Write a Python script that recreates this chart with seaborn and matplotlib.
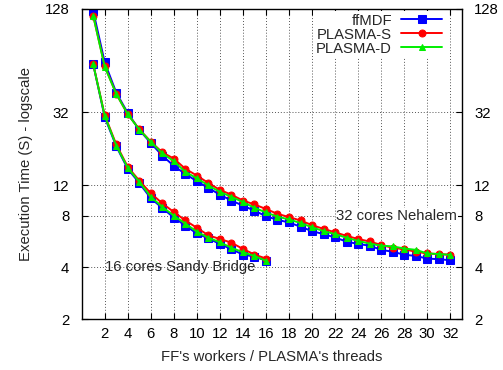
import numpy as np
import pandas as pd
import seaborn as sns
import matplotlib
matplotlib.use("Agg")
import matplotlib.pyplot as plt
from matplotlib.ticker import FixedLocator, FixedFormatter, NullLocator

# ---- data ----
threads_sb = list(range(1, 17))
threads_nh = list(range(1, 33))

sb_ffmdf = [61.0, 30.0, 20.3, 15.0, 12.4, 10.1, 8.87, 7.8, 7.0, 6.3, 5.9, 5.47, 5.1, 4.75, 4.62, 4.38]
sb_plasma_s = [61.0, 30.8, 20.8, 15.4, 12.8, 10.8, 9.44, 8.4, 7.5, 6.8, 6.15, 5.85, 5.57, 5.12, 4.75, 4.5]
sb_plasma_d = [61.0, 30.5, 20.5, 15.2, 12.6, 10.3, 9.0, 8.0, 7.2, 6.45, 5.95, 5.6, 5.2, 4.9, 4.66, 4.37]

nh_ffmdf = [124.6, 62.5, 41.7, 31.7, 25.3, 21.2, 17.9, 15.6, 14.0, 12.7, 11.6, 10.6, 9.8, 9.15, 8.56, 7.94,
            7.57, 7.3, 6.9, 6.5, 6.25, 5.97, 5.65, 5.47, 5.35, 5.06, 4.93, 4.74, 4.66, 4.5, 4.46, 4.4]
nh_plasma_s = [117.0, 59.5, 41.0, 31.2, 25.5, 21.6, 18.7, 17.2, 15.0, 13.7, 12.4, 11.3, 10.6, 9.8, 9.3, 8.75,
               8.2, 7.85, 7.5, 7.05, 6.7, 6.4, 6.1, 5.85, 5.66, 5.4, 5.2, 5.1, 4.93, 4.82, 4.78, 4.74]
nh_plasma_d = [117.0, 59.0, 41.0, 31.2, 25.4, 21.5, 18.5, 16.6, 14.4, 13.2, 12.0, 11.0, 10.3, 9.6, 8.9, 8.35,
               7.9, 7.6, 7.25, 6.85, 6.5, 6.25, 5.95, 5.7, 5.5, 5.35, 5.3, 5.15, 5.06, 4.82, 4.78, 4.73]

series_names = ["ffMDF", "PLASMA-S", "PLASMA-D"]
y_ticks = [2, 4, 8, 12, 32, 128]
x_ticks = list(range(2, 33, 2))

rows = []
for name, sb, nh in zip(series_names,
                        [sb_ffmdf, sb_plasma_s, sb_plasma_d],
                        [nh_ffmdf, nh_plasma_s, nh_plasma_d]):
    for t, v in zip(threads_sb, sb):
        rows.append(dict(threads=t, time=v, impl=name, machine="16 cores Sandy Bridge"))
    for t, v in zip(threads_nh, nh):
        rows.append(dict(threads=t, time=v, impl=name, machine="32 cores Nehalem"))
df = pd.DataFrame(rows)

# ---- style ----
FS = 10.7
sns.set_theme(style="ticks")
plt.rcParams['font.family'] = ['Liberation Sans', 'DejaVu Sans']
plt.rcParams['font.size'] = FS

colors = {"ffMDF": "#0000ff", "PLASMA-S": "#ff0000", "PLASMA-D": "#00ee00"}
markers = {"ffMDF": "s", "PLASMA-S": "o", "PLASMA-D": "^"}
msizes = {"ffMDF": 6, "PLASMA-S": 5, "PLASMA-D": 4.5}

fig = plt.figure(figsize=(5.03, 3.70), dpi=100)
ax = fig.add_axes([0.1624, 0.1378, 0.918 - 0.1624, 0.9757 - 0.1378])

for name in series_names:
    sub = df[df.impl == name]
    sns.lineplot(data=sub, x="threads", y="time", units="machine", estimator=None,
                 color=colors[name], marker=markers[name], markersize=msizes[name],
                 markeredgecolor=colors[name], linewidth=1.4, ax=ax, label=name, sort=True)

ax.set_yscale('log', base=2)
ax.set_ylim(2, 128)
ax.set_xlim(0, 33)
ax.yaxis.set_major_locator(FixedLocator(y_ticks))
ax.yaxis.set_major_formatter(FixedFormatter([str(v) for v in y_ticks]))
ax.yaxis.set_minor_locator(NullLocator())
ax.set_xticks(x_ticks)
ax.set_xticklabels([str(v) for v in x_ticks])

ax.grid(True, which='major', linestyle=(0, (1, 2)), color='#555555', linewidth=0.7)
ax.tick_params(axis='both', which='major', direction='in', length=4, width=0.8,
               top=True, right=True, labelright=True, labelsize=FS, colors='black', pad=6)
ax.tick_params(axis='y', pad=9)
for s in ax.spines.values():
    s.set_linewidth(1.0)
    s.set_color('black')

ax.set_xlabel("FF's workers / PLASMA's threads", fontsize=FS, labelpad=6)
ax.set_ylabel("Execution Time (S) - logscale", fontsize=FS, labelpad=8)

ax.text(2.0, 4.0, "16 cores Sandy Bridge", fontsize=FS, ha='left', va='center')
ax.text(32.6, 8.0, "32 cores Nehalem", fontsize=FS, ha='right', va='center',
        bbox=dict(facecolor='white', edgecolor='none', pad=0.5))

handles, labels = ax.get_legend_handles_labels()
uniq = {}
for h, l in zip(handles, labels):
    if l not in uniq:
        uniq[l] = h
leg = ax.legend(list(uniq.values()), list(uniq.keys()), loc='upper right',
                bbox_to_anchor=(0.957, 0.995), borderaxespad=0.0, borderpad=0.2,
                frameon=True, fancybox=False, markerfirst=False, handlelength=2.8,
                fontsize=FS, labelspacing=0.0, handletextpad=0.6)
leg.get_frame().set_facecolor('white')
leg.get_frame().set_edgecolor('none')
leg.get_frame().set_alpha(1.0)

fig.savefig("out.png", dpi=100)
